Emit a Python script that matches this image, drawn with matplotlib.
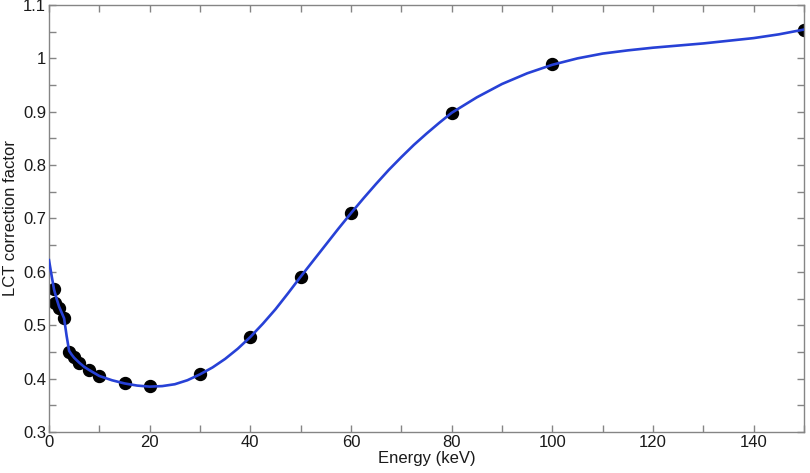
import matplotlib
matplotlib.use("Agg")
import matplotlib.pyplot as plt
from matplotlib.ticker import MultipleLocator, FuncFormatter

# measured data points
energy = [1, 1.25, 2, 3, 4, 5, 6, 8, 10, 15, 20, 30, 40, 50, 60, 80, 100, 150]
factor = [0.567, 0.542, 0.532, 0.513, 0.450, 0.440, 0.429, 0.416, 0.405,
          0.391, 0.386, 0.408, 0.478, 0.591, 0.710, 0.898, 0.989, 1.054]

# fitted curve
curve_e = [0, 0.5, 1, 1.5, 2, 2.5, 3, 3.5, 4, 4.5, 5, 6, 7, 8, 10, 12.5, 15,
           17.5, 20, 22.5, 25, 27.5, 30, 32.5, 35, 37.5, 40, 42.5, 45, 47.5,
           50, 52.5, 55, 57.5, 60, 62.5, 65, 67.5, 70, 72.5, 75, 77.5, 80,
           85, 90, 95, 100, 105, 110, 115, 120, 125, 130, 135, 140, 145, 150]
curve_v = [0.622, 0.594, 0.567, 0.550, 0.535, 0.524, 0.513, 0.480, 0.452,
           0.445, 0.439, 0.430, 0.422, 0.416, 0.405, 0.397, 0.391, 0.387,
           0.385, 0.386, 0.3895, 0.397, 0.408, 0.421, 0.437, 0.456, 0.478,
           0.503, 0.530, 0.560, 0.591, 0.621, 0.651, 0.681, 0.710, 0.738,
           0.765, 0.791, 0.815, 0.838, 0.859, 0.879, 0.898, 0.927, 0.952,
           0.972, 0.988, 1.000, 1.009, 1.015, 1.020, 1.024, 1.028, 1.033,
           1.038, 1.045, 1.054]

plt.rcParams['font.family'] = ['Liberation Sans', 'DejaVu Sans']

fig = plt.figure(figsize=(8.1, 4.73), dpi=100)
ax = fig.add_axes([49/810, 41/473, 755/810, 427/473])

ax.plot(energy, factor, 'o', color='black', markersize=8.6, zorder=2)
ax.plot(curve_e, curve_v, '-', color='#2741d6', linewidth=1.9, zorder=3,
        solid_joinstyle='round')

ax.set_xlim(0, 150)
ax.set_ylim(0.3, 1.1)
ax.xaxis.set_major_locator(MultipleLocator(20))
ax.xaxis.set_minor_locator(MultipleLocator(10))
ax.yaxis.set_major_locator(MultipleLocator(0.1))
ax.yaxis.set_minor_locator(MultipleLocator(0.05))
ax.yaxis.set_major_formatter(FuncFormatter(lambda v, p: ('%g' % round(v, 2))))

for sp in ax.spines.values():
    sp.set_color('#858585')
    sp.set_linewidth(1.0)
ax.tick_params(which='both', direction='in', top=True, right=True,
               color='#858585', width=1.0)
ax.tick_params(which='major', length=5, labelsize=12, labelcolor='#1a1a1a', pad=2)
ax.tick_params(which='minor', length=5)

ax.set_xlabel('Energy (keV)', fontsize=12, color='#1a1a1a', labelpad=1)
ax.set_ylabel('LCT correction factor', fontsize=12, color='#1a1a1a', labelpad=4)

fig.savefig('out.png', dpi=100)
